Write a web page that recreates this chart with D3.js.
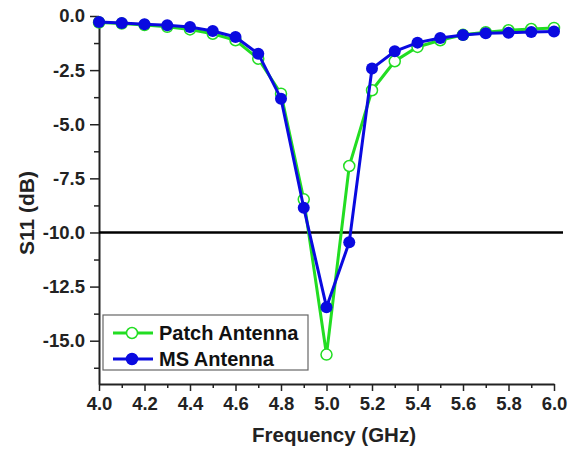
<!DOCTYPE html>
<html>
<head>
<meta charset="utf-8">
<script src="https://cdn.jsdelivr.net/npm/d3@7"></script>
<style>
  body { margin: 0; background: #fff; }
  text { font-family: Arial, "Liberation Sans", sans-serif; font-weight: bold; }
</style>
</head>
<body>
<svg id="chart" width="586" height="454"></svg>
<script>
// Frequency points (GHz)
const freq = [4.0, 4.1, 4.2, 4.3, 4.4, 4.5, 4.6, 4.7, 4.8, 4.9, 5.0,
              5.1, 5.2, 5.3, 5.4, 5.5, 5.6, 5.7, 5.8, 5.9, 6.0];
// S11 values (dB)
const patchS11 = [-0.30, -0.35, -0.42, -0.50, -0.62, -0.82, -1.12, -1.97, -3.59, -8.47, -15.64,
                  -6.93, -3.43, -2.09, -1.43, -1.12, -0.87, -0.75, -0.66, -0.60, -0.55];
const msS11 = [-0.28, -0.32, -0.38, -0.43, -0.51, -0.69, -0.97, -1.74, -3.82, -8.86, -13.45,
               -10.45, -2.43, -1.63, -1.23, -1.02, -0.88, -0.80, -0.77, -0.74, -0.72];
const xTicks = [4.0, 4.2, 4.4, 4.6, 4.8, 5.0, 5.2, 5.4, 5.6, 5.8, 6.0];
const yTicks = [0, -2.5, -5, -7.5, -10, -12.5, -15];
const threshold = -10;

const svg = d3.select('#chart');
const margin = { top: 16, right: 32, bottom: 70, left: 99 },
    width = +svg.attr('width') - margin.left - margin.right,
    height = +svg.attr('height') - margin.top - margin.bottom;

const g = svg.append('g').attr('transform', `translate(${margin.left},${margin.top})`);

const colors = {
    patch: "#22dd22",
    ms: "#0a0ae0",
    axis: "#222222"
};

const x = d3.scaleLinear().domain([4.0, 6.0]).range([0, 455]);
const y = d3.scaleLinear().domain([-17, 0]).range([height, 0]);
const fmt = d => d.toFixed(1); // plain hyphen minus like the original

// Axes
const xAxis = g.append('g')
    .attr('transform', `translate(0,${height})`)
    .call(d3.axisBottom(x).tickValues(xTicks).tickFormat(fmt).tickSize(7).tickSizeOuter(0));
g.append('g')
    .attr('transform', `translate(0,${height})`)
    .call(d3.axisBottom(x).tickValues(d3.range(4.1, 6.0, 0.2)).tickFormat('').tickSize(4).tickSizeOuter(0))
    .select('.domain').remove();

const yAxis = g.append('g')
    .call(d3.axisLeft(y).tickValues(yTicks).tickFormat(fmt).tickSize(9).tickSizeOuter(0));
g.append('g')
    .call(d3.axisLeft(y).tickValues([-1.25, -3.75, -6.25, -8.75, -11.25, -13.75, -16.25]).tickFormat('').tickSize(5).tickSizeOuter(0))
    .select('.domain').remove();

g.selectAll('.domain').attr('stroke', colors.axis).attr('stroke-width', 2);
g.selectAll('.tick line').attr('stroke', colors.axis).attr('stroke-width', 1.5);
xAxis.selectAll('text').attr('dy', '0.86em').style('font-size', '18.5px').style('fill', '#222');
yAxis.selectAll('text').attr('x', -14).style('font-size', '18.5px').style('fill', '#222');

// Axis labels
g.append('text')
    .attr('x', 235)
    .attr('y', height + 58)
    .style('text-anchor', 'middle')
    .style('font-size', '20.5px')
    .style('fill', '#222')
    .text('Frequency (GHz)');

svg.append('text')
    .attr('transform', 'translate(34,213) rotate(-90)')
    .style('text-anchor', 'middle')
    .style('font-size', '21px')
    .style('fill', '#222')
    .text('S11 (dB)');

// -10 dB reference line
g.append('line')
    .attr('x1', 0)
    .attr('x2', x(6.0) + 9)
    .attr('y1', y(threshold))
    .attr('y2', y(threshold))
    .attr('stroke', '#000')
    .attr('stroke-width', 2.5);

const patchData = freq.map((f, i) => ({ f, v: patchS11[i] }));
const msData = freq.map((f, i) => ({ f, v: msS11[i] }));
const line = d3.line().x(d => x(d.f)).y(d => y(d.v));

// Patch antenna series
g.append('path')
    .datum(patchData)
    .attr('fill', 'none')
    .attr('stroke', colors.patch)
    .attr('stroke-width', 3)
    .attr('d', line);
g.selectAll('.patch-dot')
    .data(patchData)
    .enter().append('circle')
    .attr('class', 'patch-dot')
    .attr('cx', d => x(d.f))
    .attr('cy', d => y(d.v))
    .attr('r', 5.5)
    .attr('fill', '#fff')
    .attr('stroke', colors.patch)
    .attr('stroke-width', 1.5);

// MS antenna series
g.append('path')
    .datum(msData)
    .attr('fill', 'none')
    .attr('stroke', colors.ms)
    .attr('stroke-width', 3)
    .attr('d', line);
g.selectAll('.ms-dot')
    .data(msData)
    .enter().append('circle')
    .attr('class', 'ms-dot')
    .attr('cx', d => x(d.f))
    .attr('cy', d => y(d.v))
    .attr('r', 6)
    .attr('fill', colors.ms);

// Legend
const legend = g.append('g').attr('transform', 'translate(4,299)');
legend.append('rect')
    .attr('width', 205)
    .attr('height', 55)
    .attr('fill', '#fff')
    .attr('stroke', '#666')
    .attr('stroke-width', 1.2);

const items = [
    { name: 'Patch Antenna', color: colors.patch, fill: '#fff' },
    { name: 'MS Antenna', color: colors.ms, fill: colors.ms }
];
items.forEach((it, i) => {
    const row = legend.append('g').attr('transform', `translate(0,${18 + i * 26})`);
    row.append('line')
        .attr('x1', 10).attr('x2', 50)
        .attr('stroke', it.color).attr('stroke-width', 3);
    row.append('circle')
        .attr('cx', 29).attr('r', 5.5)
        .attr('fill', it.fill)
        .attr('stroke', it.color).attr('stroke-width', 1.5);
    row.append('text')
        .attr('x', 56)
        .attr('dy', '0.36em')
        .style('font-size', '20px')
        .style('fill', '#111')
        .text(it.name);
});
</script>
</body>
</html>
